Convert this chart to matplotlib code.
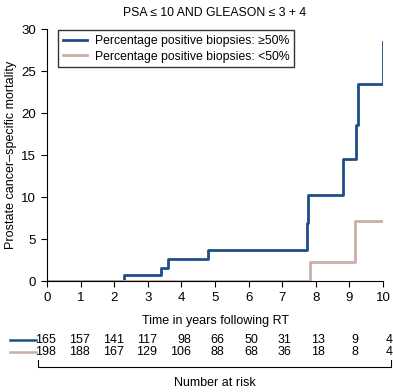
import matplotlib.pyplot as plt
from matplotlib.transforms import blended_transform_factory
from matplotlib.lines import Line2D

plt.rcParams['font.family'] = ['Liberation Sans', 'DejaVu Sans']
plt.rcParams['font.size'] = 9

# step curves (years, % mortality)
t_high = [0, 2.3, 3.4, 3.6, 4.8, 7.74, 7.77, 8.8, 9.2, 9.26, 10]
y_high = [0, 0.7, 1.6, 2.6, 3.7, 6.9, 10.2, 14.5, 18.6, 23.5, 28.5]
t_low = [0, 7.83, 9.17, 10]
y_low = [0, 2.3, 7.2, 7.2]

years = list(range(11))
risk_high = [165, 157, 141, 117, 98, 66, 50, 31, 13, 9, 4]
risk_low = [198, 188, 167, 129, 106, 88, 68, 36, 18, 8, 4]

labels = ["Percentage positive biopsies: \u226550%", "Percentage positive biopsies: <50%"]
c_high = "#1d4f86"
c_low = "#c9aea8"

fig = plt.figure(figsize=(3.93, 3.92), dpi=100)
ax = fig.add_axes([47/393, 111/392, 336/393, 252/392])

ax.step(t_high, y_high, where='post', color=c_high, lw=2.0, label=labels[0])
ax.step(t_low, y_low, where='post', color=c_low, lw=2.0, label=labels[1])

ax.set_xlim(0, 10)
ax.set_ylim(0, 30)
ax.set_xticks(years)
ax.set_yticks(range(0, 31, 5))
ax.spines['top'].set_visible(False)
ax.spines['right'].set_visible(False)
ax.tick_params(length=4, width=0.8, labelsize=9.5, pad=4)
ax.set_xlabel("Time in years following RT", fontsize=9, labelpad=8)
ax.set_ylabel("Prostate cancer\u2013specific mortality", fontsize=9, labelpad=3)
ax.set_title("PSA \u2264 10 AND GLEASON \u2264 3 + 4", fontsize=8.8, pad=9)

leg = ax.legend(loc='upper left', bbox_to_anchor=(0.033, 0.996), borderaxespad=0,
                frameon=True, fancybox=False, edgecolor='black', fontsize=8.8,
                handlelength=2.0, handletextpad=0.6, borderpad=0.4, labelspacing=0.3)
leg.get_frame().set_linewidth(1.0)

# number at risk table
tr = blended_transform_factory(ax.transData, fig.transFigure)
for vals, ypix, col in [(risk_high, 340, c_high), (risk_low, 352, c_low)]:
    yf = 1 - ypix/392
    for x, v in zip(years, vals):
        ax.text(x + 0.28, yf, str(v), transform=tr, ha='right', va='center',
                fontsize=9, clip_on=False)
    fig.add_artist(Line2D([10/393, 36/393], [yf, yf], color=col, lw=1.8))

yb = 1 - 367/392
yt = 1 - 360/392
fig.add_artist(Line2D([38/393, 38/393, 391/393, 391/393], [yt, yb, yb, yt],
                      color='black', lw=0.8))
fig.text(215/393, 1 - 383/392, "Number at risk", ha='center', va='center', fontsize=9)

fig.savefig("out.png", dpi=100)
